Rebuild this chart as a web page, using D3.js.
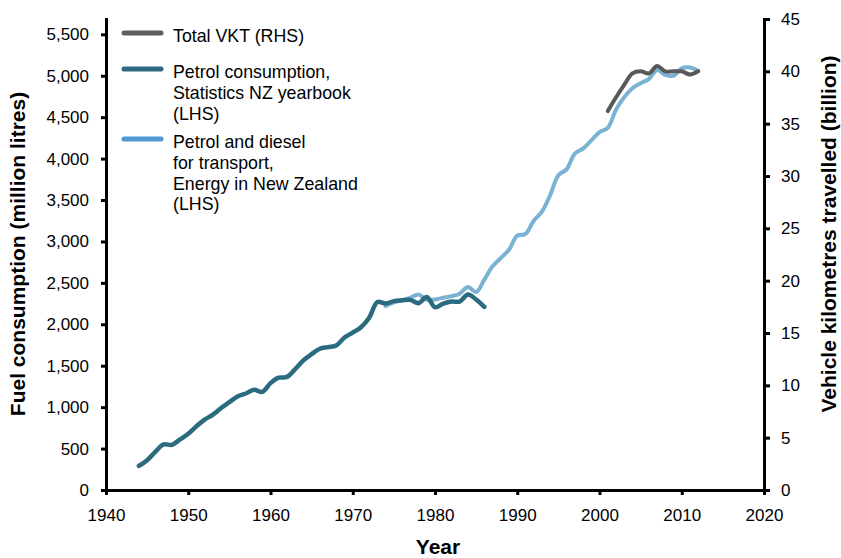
<!DOCTYPE html>
<html>
<head>
<meta charset="utf-8">
<script src="https://cdn.jsdelivr.net/npm/d3@7"></script>
<style>
  body { margin: 0; background: #fff; }
  svg text { font-family: "Liberation Sans", Arial, sans-serif; fill: #000; }
  .axis path, .axis line { stroke: #000; stroke-width: 3px; }
  .axis text { font-size: 17px; }
  .title { font-size: 21px; font-weight: bold; }
  .legend text { font-size: 17.8px; }
</style>
</head>
<body>
<div id="chart"></div>
<script>
// petrol consumption, Statistics NZ yearbook (LHS), 1944-1986
var petrolYears = d3.range(1944, 1987);
var petrolValues = [290, 360, 460, 550, 545, 610, 680, 770, 850, 910,
                    990, 1060, 1130, 1165, 1210, 1185, 1290, 1355, 1365, 1460,
                    1565, 1640, 1705, 1725, 1745, 1840, 1900, 1965, 2080, 2270,
                    2250, 2280, 2290, 2295, 2255, 2330, 2205, 2250, 2275, 2275,
                    2360, 2300, 2210];

// petrol and diesel for transport, Energy in New Zealand (LHS), 1974-2012
var energyYears = d3.range(1974, 2013);
var energyValues = [2220, 2265, 2290, 2320, 2360, 2295, 2300, 2320, 2340, 2370,
                    2450, 2390, 2540, 2700, 2800, 2900, 3070, 3090, 3250, 3360,
                    3560, 3800, 3870, 4060, 4120, 4220, 4320, 4370, 4590, 4740,
                    4850, 4910, 4960, 5070, 5010, 5000, 5090, 5100, 5060];

// total VKT (RHS, billion), 2001-2012
var vktYears = d3.range(2001, 2013);
var vktValues = [36.2, 37.5, 38.7, 39.8, 40.0, 39.8, 40.5, 40.0, 40.0, 40.0, 39.7, 40.0];

var xTicks = d3.range(1940, 2021, 10);
var leftTicks = d3.range(0, 5501, 500);
var rightTicks = d3.range(0, 46, 5);

var legendItems = [
    {lines: ["Total VKT (RHS)"], color: "#5f5f5f"},
    {lines: ["Petrol consumption,", "Statistics NZ yearbook", "(LHS)"], color: "#2e6a80"},
    {lines: ["Petrol and diesel", "for transport,", "Energy in New Zealand", "(LHS)"], color: "#4f98d0"}
];

var width = 841,
    height = 558;

var svg = d3.select("#chart").append("svg")
    .attr("width", width + "px")
    .attr("height", height + "px");

var x = d3.scaleLinear().domain([1940, 2020]).range([106, 764]);
// left axis line runs above the 5,500 tick up to the plot top
var yL = d3.scaleLinear().domain([0, 5685]).range([490, 19]);
var yR = d3.scaleLinear().domain([0, 45]).range([490, 19]);

var fmt = d3.format(",");

svg.append("g").attr("class", "axis")
    .attr("transform", "translate(0,490)")
    .call(d3.axisBottom(x).tickValues(xTicks).tickFormat(d3.format("d"))
        .tickSize(5).tickSizeOuter(0).tickPadding(14));

svg.append("g").attr("class", "axis")
    .attr("transform", "translate(106,0)")
    .call(d3.axisLeft(yL).tickValues(leftTicks).tickFormat(fmt)
        .tickSize(5).tickSizeOuter(0).tickPadding(12));

svg.append("g").attr("class", "axis")
    .attr("transform", "translate(764,0)")
    .call(d3.axisRight(yR).tickValues(rightTicks)
        .tickSize(6).tickSizeOuter(0).tickPadding(11));

svg.selectAll(".axis .domain").attr("stroke-linecap", "square");

// axis titles
svg.append("text").attr("class", "title")
    .attr("transform", "translate(25,254) rotate(-90)")
    .attr("text-anchor", "middle")
    .text("Fuel consumption (million litres)");
svg.append("text").attr("class", "title")
    .attr("transform", "translate(836,234) rotate(-90)")
    .attr("text-anchor", "middle")
    .text("Vehicle kilometres travelled (billion)");
svg.append("text").attr("class", "title")
    .attr("x", 438).attr("y", 554)
    .attr("text-anchor", "middle")
    .text("Year");

function series(years, values) {
    return years.map(function(d, i) { return {x: d, y: values[i]}; });
}

var lineL = d3.line()
    .x(function(d) { return x(d.x); })
    .y(function(d) { return yL(d.y); })
    .curve(d3.curveCatmullRom.alpha(0.5));
var lineR = d3.line()
    .x(function(d) { return x(d.x); })
    .y(function(d) { return yR(d.y); })
    .curve(d3.curveCatmullRom.alpha(0.5));

svg.append("path")
    .attr("d", lineL(series(energyYears, energyValues)))
    .attr("fill", "none").attr("stroke", "#7ab2d4").attr("stroke-width", 4)
    .attr("stroke-linecap", "round").attr("stroke-linejoin", "round");
svg.append("path")
    .attr("d", lineL(series(petrolYears, petrolValues)))
    .attr("fill", "none").attr("stroke", "#2b6b80").attr("stroke-width", 4.5)
    .attr("stroke-linecap", "round").attr("stroke-linejoin", "round");
svg.append("path")
    .attr("d", lineR(series(vktYears, vktValues)))
    .attr("fill", "none").attr("stroke", "#595959").attr("stroke-width", 4)
    .attr("stroke-linecap", "round").attr("stroke-linejoin", "round");

// legend
var legendY = [33, 69, 139];
var legend = svg.append("g").attr("class", "legend");
legendItems.forEach(function(item, i) {
    legend.append("line")
        .attr("x1", 124).attr("x2", 161)
        .attr("y1", legendY[i]).attr("y2", legendY[i])
        .attr("stroke", item.color).attr("stroke-width", 5)
        .attr("stroke-linecap", "round");
    item.lines.forEach(function(t, j) {
        legend.append("text")
            .attr("x", 173)
            .attr("y", legendY[i] + 3 + j * 20.7)
            .attr("dy", "0.35em")
            .text(t);
    });
});
</script>
</body>
</html>
